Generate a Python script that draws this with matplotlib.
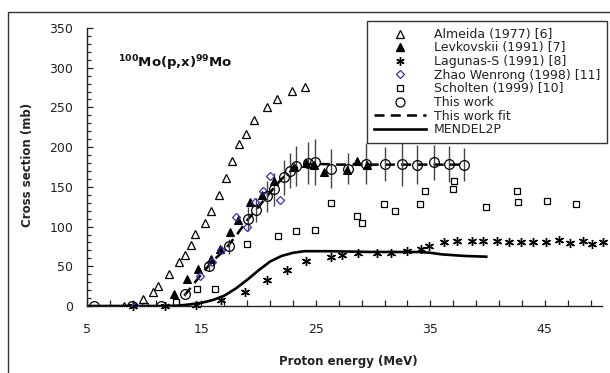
import matplotlib
matplotlib.use("Agg")
import matplotlib.pyplot as plt
from matplotlib.lines import Line2D
from matplotlib.patches import Rectangle
import numpy as np

plt.rcParams['font.family'] = ['DejaVu Sans']

# ---------------- data ----------------
almeida_x = [8.2, 9.9, 10.75, 11.2, 12.2, 13.0, 13.6, 14.1, 14.45, 15.3, 15.8, 16.5,
             17.15, 17.7, 18.3, 18.9, 19.6, 20.7, 21.6, 22.95, 24.05]
almeida_y = [0, 9, 18, 25, 40, 56, 64, 77, 91, 105, 120, 140,
             161, 183, 204, 217, 234, 251, 261, 271, 276]

levk_x = [12.6, 13.7, 14.7, 15.8, 16.6, 17.5, 18.2, 19.2, 20.3, 21.35, 23.05,
          24.1, 24.8, 25.7, 27.7, 28.6, 29.5]
levk_y = [15, 34, 47, 59, 72, 93, 108, 131, 140, 157, 175,
          180, 178, 169, 171, 182, 178]

lag_x = [9.0, 11.8, 14.55, 16.75, 18.8, 20.7, 22.5, 24.15, 26.3, 27.3, 28.7, 30.3,
         31.6, 33.0, 34.2, 34.9, 36.2, 37.3, 38.6, 39.6, 40.8, 41.9, 42.9, 44.0,
         45.1, 46.2, 47.2, 48.3, 49.1, 50.1]
lag_y = [0, 0, 1, 7, 17, 33, 45, 57, 62, 64, 67, 67,
         67, 69, 72, 76, 80, 82, 82, 82, 82, 80, 81, 81,
         80, 83, 79, 82, 78, 81]

zhao_x = [9.2, 14.9, 15.9, 16.75, 18.0, 18.97, 19.7, 20.4, 21.0, 21.85]
zhao_y = [0, 38, 55, 70, 112, 99, 131, 145, 164, 133]

scholten_x = [10.1, 12.8, 14.6, 16.2, 19.0, 21.65, 23.3, 24.9, 26.3, 28.6, 29.0,
              30.95, 31.9, 34.1, 34.5, 37.0, 37.1, 39.9, 42.6, 42.7, 45.2, 47.7]
scholten_y = [0, 5, 21, 22, 78, 88, 94, 96, 130, 113, 105,
              128, 120, 128, 145, 147, 157, 125, 145, 131, 132, 128]

work_x = [5.6, 8.9, 11.5, 13.6, 15.65, 17.45, 19.05, 19.8, 20.7, 21.35, 22.2, 22.75,
          23.3, 24.3, 24.95, 26.3, 27.8, 29.4, 31.0, 32.5, 33.8, 35.3, 36.6, 37.9]
work_y = [0, 0, 0, 15, 50, 75, 110, 121, 138, 147, 162, 170,
          176, 180, 181, 173, 173, 179, 179, 179, 178, 181, 179, 178]
work_err = [0, 0, 0, 3, 6, 9, 15, 15, 20, 21, 22, 22,
            25, 27, 29, 25, 20, 26, 21, 28, 25, 22, 23, 21]

fit_x = [13.5, 15, 16, 17, 18, 19, 20, 21, 22, 23, 24, 25, 27, 30, 34, 38]
fit_y = [13, 40, 57, 70, 88, 108, 125, 143, 160, 172, 178, 179, 178, 178, 178, 178]

mendel_x = [5, 12, 13, 14, 15, 16, 17, 18, 19, 20, 21, 22, 23, 24, 26, 30, 34, 35,
            36, 37, 38, 40]
mendel_y = [0, 0, 0.5, 2, 4, 7.5, 13, 22, 33, 45, 56, 63, 67, 69, 69, 68, 68, 67,
            65, 64, 63, 62]

labels = ["Almeida (1977) [6]", "Levkovskii (1991) [7]", "Lagunas-S (1991) [8]",
          "Zhao Wenrong (1998) [11]", "Scholten (1999) [10]", "This work",
          "This work fit", "MENDEL2P"]

# ---------------- figure ----------------
W, H = 610, 373
fig = plt.figure(figsize=(W / 100, H / 100), dpi=100)

# outer chart border
fig.patches.append(Rectangle((8 / W, -0.05), 1.2, 1 - 12 / H + 0.05,
                             transform=fig.transFigure, fill=False,
                             edgecolor='#333333', linewidth=1.0))

ax = fig.add_axes([87 / W, 1 - 306 / H, (602 - 87) / W, (306 - 28) / H])
ax.set_facecolor('none')

ax.plot(mendel_x, mendel_y, color='black', lw=1.9, solid_capstyle='butt', zorder=2)
ax.plot(fit_x, fit_y, color='black', lw=1.8, dashes=(4, 2.5), zorder=2)

ax.errorbar(work_x, work_y, yerr=work_err, fmt='none', ecolor='#444444',
            elinewidth=1.0, capsize=0, zorder=3)

ax.plot(almeida_x, almeida_y, ls='none', marker='^', ms=6, mfc='none', mec='black',
        mew=0.9, zorder=4)
ax.plot(levk_x, levk_y, ls='none', marker='^', ms=6, mfc='black', mec='black',
        mew=0.8, zorder=4)
ax.plot(lag_x, lag_y, ls='none', marker=(6, 2, 0), ms=6.5, mec='black', mew=1.0,
        zorder=4, clip_on=False)
ax.plot(zhao_x, zhao_y, ls='none', marker='D', ms=4.2, mfc='none', mec='#3b2f9e',
        mew=0.9, zorder=4)
ax.plot(scholten_x, scholten_y, ls='none', marker='s', ms=4.6, mfc='none',
        mec='black', mew=0.9, zorder=4)
ax.plot(work_x, work_y, ls='none', marker='o', ms=7, mfc='none', mec='black',
        mew=0.9, zorder=5)

ax.set_xlim(5, 50)
ax.set_ylim(0, 350)
ax.set_xticks([5, 15, 25, 35, 45])
ax.set_xticks(np.arange(5, 50, 2), minor=True)
ax.set_yticks(np.arange(0, 351, 50))
ax.set_yticks(np.arange(0, 351, 10), minor=True)

for s in ['top', 'right']:
    ax.spines[s].set_visible(False)
for s in ['left', 'bottom']:
    ax.spines[s].set_linewidth(1.0)
    ax.spines[s].set_color('#222222')

ax.tick_params(axis='both', which='both', direction='in', color='#222222', width=0.9)
ax.tick_params(axis='y', which='major', length=4, pad=10, labelsize=9, labelcolor='#222222')
ax.tick_params(axis='y', which='minor', length=3)
ax.tick_params(axis='x', which='major', length=4, pad=12, labelsize=9, labelcolor='#222222')
ax.tick_params(axis='x', which='minor', length=4)

fig.text(28 / W, 1 - 165 / H, "Cross section (mb)", rotation=90, ha='center',
         va='center', fontsize=8.5, fontweight='bold', color='#222222')
fig.text(348 / W, 1 - 362 / H, "Proton energy (MeV)", ha='center', va='center',
         fontsize=8.5, fontweight='bold', color='#222222')

fig.text(118 / W, 1 - 67.5 / H,
         r"$^{\mathbf{100}}\mathbf{Mo(p{,}x)}^{\mathbf{99}}\mathbf{Mo}$",
         ha='left', va='baseline', fontsize=9.5, color='#111111')

# legend
handles = [
    Line2D([], [], ls='none', marker='^', ms=5.5, mfc='none', mec='black', mew=0.9),
    Line2D([], [], ls='none', marker='^', ms=5.5, mfc='black', mec='black'),
    Line2D([], [], ls='none', marker=(6, 2, 0), ms=6, mec='black', mew=1.0),
    Line2D([], [], ls='none', marker='D', ms=4, mfc='none', mec='#3b2f9e', mew=0.9),
    Line2D([], [], ls='none', marker='s', ms=4.4, mfc='none', mec='black', mew=0.9),
    Line2D([], [], ls='none', marker='o', ms=6.5, mfc='none', mec='black', mew=0.9),
    Line2D([], [], color='black', lw=1.8, dashes=(4, 2.5)),
    Line2D([], [], color='black', lw=1.9),
]
leg = fig.legend(handles, labels, loc='upper right',
                 bbox_to_anchor=(607 / W, 1 - 21 / H),
                 bbox_transform=fig.transFigure, borderaxespad=0,
                 fontsize=9, labelspacing=0.05, handlelength=4.2,
                 handletextpad=0.6, borderpad=0.55, fancybox=False,
                 framealpha=1, edgecolor='#333333')
leg.get_frame().set_linewidth(1.0)
for t in leg.get_texts():
    t.set_color('#222222')

fig.savefig("out.png", dpi=100)
